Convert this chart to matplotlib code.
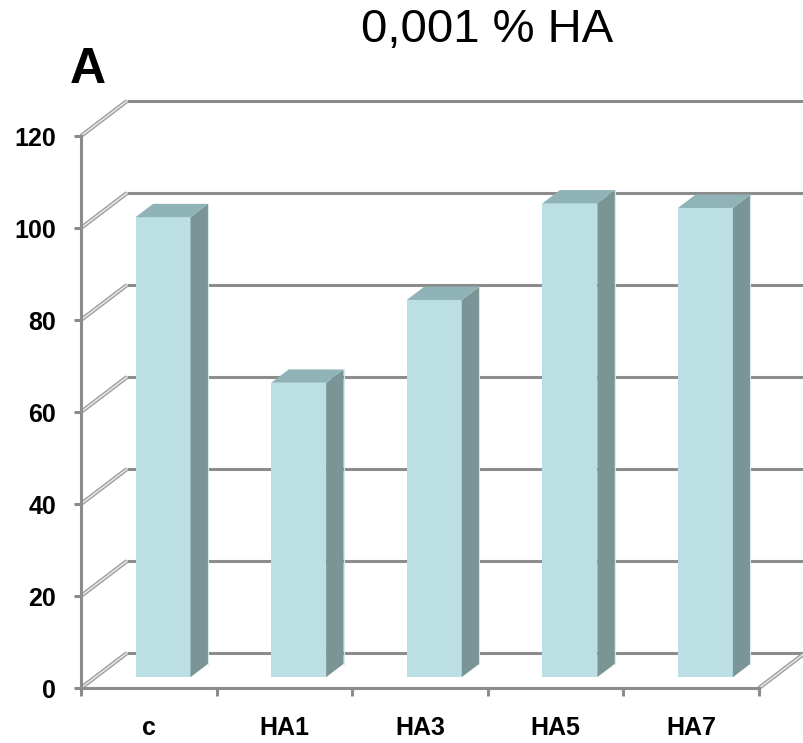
import matplotlib
matplotlib.use("Agg")
import matplotlib.pyplot as plt
from matplotlib.patches import Polygon
import numpy as np

plt.rcParams['font.family'] = ['Liberation Sans', 'DejaVu Sans']

# data
categories = ['c', 'HA1', 'HA3', 'HA5', 'HA7']
values = [100, 64, 82, 103, 102]
yticks = [0, 20, 40, 60, 80, 100, 120]

GRID = '#8c8c8c'
FRONT = '#bcdfe3'
TOP = '#8fb3b6'
SIDE = '#7a9596'

W, H = 804, 743
fig = plt.figure(figsize=(W / 100, H / 100), dpi=100)
# front plane of the 3d box
ax = fig.add_axes([81 / W, (H - 688) / H, (759 - 81) / W, (688 - 136) / H])
ax.set_xlim(0, len(categories))
ax.set_ylim(0, 120)

# depth of the box, in data units
depth_x = 46 / 135.6
depth_y = 35 / 4.6
xmax = (W - 81) / 135.6

# back wall gridlines and side wall diagonals
for v in yticks:
    ax.plot([depth_x, xmax], [v + depth_y, v + depth_y], color=GRID, lw=2.2,
            clip_on=False, zorder=1, solid_capstyle='butt')
    ax.plot([0, depth_x], [v, v + depth_y], color='#9a9a9a', lw=3.0,
            clip_on=False, zorder=1, solid_capstyle='butt')
    ax.plot([0, depth_x], [v, v + depth_y], color='#e4e4e4', lw=1.2,
            clip_on=False, zorder=1.1, solid_capstyle='butt')

# floor right edge
n = len(categories)
ax.plot([n, n + depth_x], [0, depth_y], color='#9a9a9a', lw=3.0,
        clip_on=False, zorder=1, solid_capstyle='butt')
ax.plot([n, n + depth_x], [0, depth_y], color='#e4e4e4', lw=1.2,
        clip_on=False, zorder=1.1, solid_capstyle='butt')

# bars placed at middle depth
f0 = 0.31
bar_depth = 0.38
bw = 0.405
bx = np.arange(n) + 0.5 + f0 * depth_x
base = f0 * depth_y
sdx, sdy = bar_depth * depth_x, bar_depth * depth_y
ax.bar(bx, values, width=bw, bottom=base, color=FRONT, zorder=3, clip_on=False)
for x, v in zip(bx, values):
    xl, xr = x - bw / 2, x + bw / 2
    top = base + v
    ax.add_patch(Polygon([(xr, base), (xr + sdx, base + sdy), (xr + sdx, top + sdy), (xr, top)],
                         closed=True, fc=SIDE, ec='none', zorder=3, clip_on=False))
    ax.add_patch(Polygon([(xl, top), (xr, top), (xr + sdx, top + sdy), (xl + sdx, top + sdy)],
                         closed=True, fc=TOP, ec='none', zorder=3, clip_on=False))
    ax.plot([xr + sdx, xr + sdx], [base + sdy, top + sdy], color='#d8e8ea', lw=0.8,
            zorder=3.1, clip_on=False)

# axes
for s in ['top', 'right']:
    ax.spines[s].set_visible(False)
for s in ['left', 'bottom']:
    ax.spines[s].set_color(GRID)
    ax.spines[s].set_linewidth(2.2)
    ax.spines[s].set_zorder(4)
ax.set_yticks(yticks)
ax.set_yticklabels([str(v) for v in yticks], fontsize=18, fontweight='bold')
ax.set_xticks(np.arange(n + 1))
ax.set_xticklabels([])
ax.set_xticks(np.arange(n) + 0.5, minor=True)
ax.set_xticklabels(categories, minor=True, fontsize=18, fontweight='bold')
ax.tick_params(axis='y', length=5, width=2.2, color=GRID, pad=13)
ax.tick_params(axis='x', which='major', length=6, width=2.2, color=GRID, direction='out')
ax.tick_params(axis='x', which='minor', length=0, pad=20)
ax.set_facecolor('none')

fig.text(487 / W, 1 - 30 / H, '0,001 % HA', fontsize=34, ha='center', va='center')
fig.text(70 / W, 1 - 70 / H, 'A', fontsize=36, fontweight='bold', ha='left', va='center')

fig.savefig('out.png', dpi=100)
